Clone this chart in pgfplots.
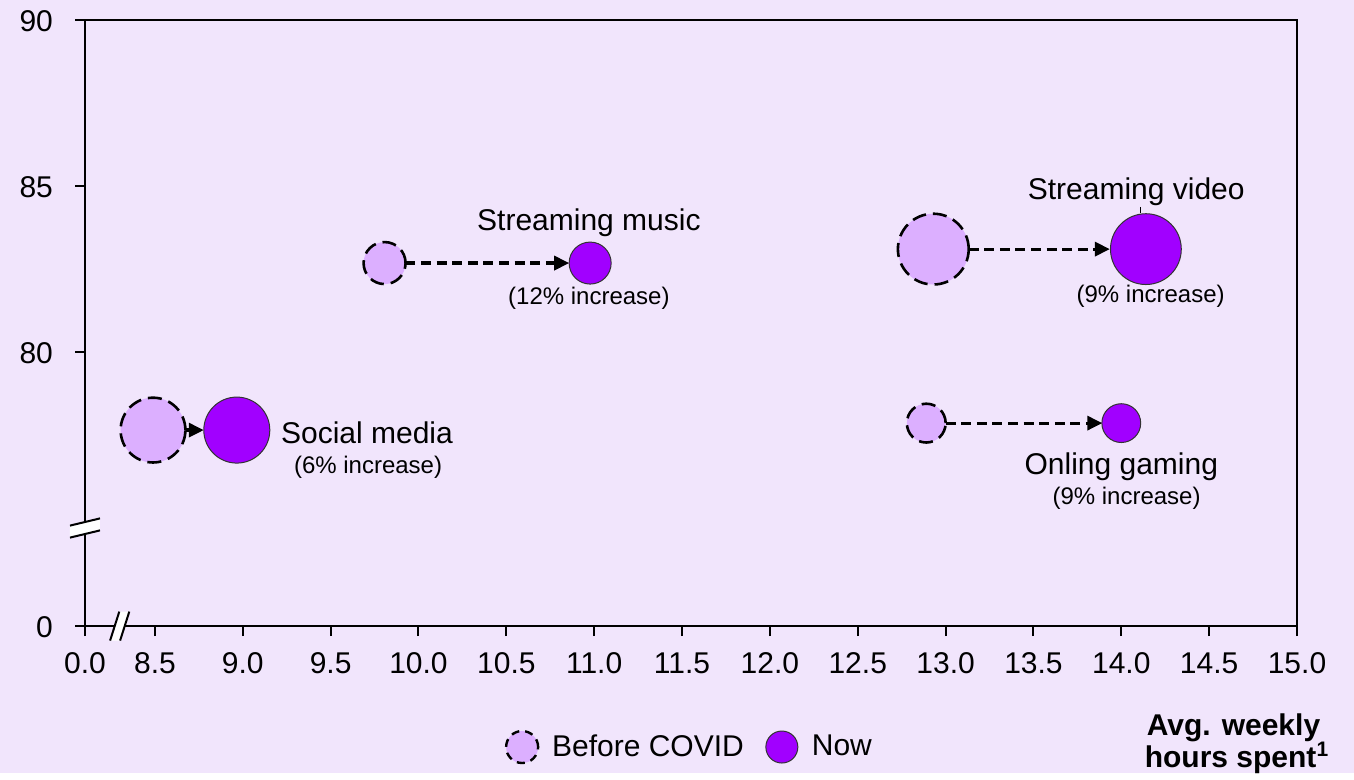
\documentclass[border=0pt]{standalone}
\usepackage{pgfplots}
\pgfplotsset{compat=1.18}
\usepackage{fontspec}
\setmainfont{Liberation Sans}
\usetikzlibrary{arrows.meta,backgrounds}

\definecolor{bgc}{HTML}{F1E5FC}
\definecolor{nowc}{HTML}{A100FF}
\definecolor{prec}{HTML}{DCAFFF}

\newcommand{\lbl}{\fontsize{15}{18}\selectfont}
\newcommand{\sml}{\fontsize{12}{14}\selectfont}

\pgfplotsset{
  before/.style={forget plot, only marks, mark=*,
    mark options={fill=prec, draw=black, line width=1.3pt, dash pattern=on 7pt off 3.5pt}},
  now/.style={forget plot, only marks, mark=*,
    mark options={fill=nowc, draw=black!80, line width=0.5pt, solid}},
  move/.style={forget plot, black, line width=1.6pt, dash pattern=on 5pt off 2.8pt,
    -{Triangle[length=7.5pt,width=7pt]}},
}

\begin{document}
\begin{tikzpicture}
\begin{axis}[
  name=ax,
  scale only axis,
  width=606pt, height=303pt,
  xmin=8.102, xmax=15.0,
  ymin=71.75, ymax=90,
  xtick={8.102,8.5,9,9.5,10,10.5,11,11.5,12,12.5,13,13.5,14,14.5,15},
  xticklabels={0.0,8.5,9.0,9.5,10.0,10.5,11.0,11.5,12.0,12.5,13.0,13.5,14.0,14.5,15.0},
  ytick={71.75,80,85,90},
  yticklabels={0,80,85,90},
  tick pos=left,
  tick align=outside,
  major tick length=5pt,
  tick style={black, line width=1pt},
  axis line style={black, line width=1pt},
  ticklabel style={font=\lbl, text height=11pt, text depth=0pt},
  xticklabel style={yshift=-4pt},
  yticklabel style={xshift=-7.5pt},
  clip=false,
  legend columns=2,
  legend style={at={(0.5,-0.1997)}, anchor=center, draw=none, fill=none,
    font=\lbl,
    /tikz/every odd column/.append style={column sep=5pt},
    /tikz/every even column/.append style={column sep=9pt}},
  legend cell align=left,
]
\addlegendimage{only marks, mark=*, mark size=8pt,
  mark options={fill=prec, draw=black, line width=1.2pt, dash pattern=on 4pt off 3pt}}
\addlegendentry{Before COVID}
\addlegendimage{only marks, mark=*, mark size=8pt,
  mark options={fill=nowc, draw=black!80, line width=0.5pt, solid}}
\addlegendentry{Now}

% Social media
\addplot[move] coordinates {(8.673,77.65) (8.778,77.65)};
\addplot[before, mark size=16.2pt] coordinates {(8.489,77.65)};
\addplot[now, mark size=16.5pt] coordinates {(8.966,77.65)};
% Streaming music
\addplot[move] coordinates {(9.926,82.68) (10.858,82.68)};
\addplot[before, mark size=10.5pt] coordinates {(9.807,82.68)};
\addplot[now, mark size=10.5pt] coordinates {(10.977,82.68)};
% Streaming video
\addplot[move] coordinates {(13.131,83.1) (13.935,83.1)};
\addplot[before, mark size=17.7pt] coordinates {(12.93,83.1)};
\addplot[now, mark size=17.7pt] coordinates {(14.14,83.1)};
% Online gaming
\addplot[move] coordinates {(13.0,77.86) (13.892,77.86)};
\addplot[before, mark size=9.7pt] coordinates {(12.89,77.86)};
\addplot[now, mark size=9.7pt] coordinates {(14.0,77.86)};

\node[font=\lbl] at (axis cs:9.707,77.56) {Social media};
\node[font=\sml] at (axis cs:9.713,76.54) {(6\% increase)};
\node[font=\lbl] at (axis cs:10.97,83.89) {Streaming music};
\node[font=\sml] at (axis cs:10.97,81.63) {(12\% increase)};
\node[font=\lbl] at (axis cs:14.085,84.82) {Streaming video};
\draw[black, line width=0.5pt] (axis cs:14.11,84.37) -- (axis cs:14.11,84.19);
\node[font=\sml] at (axis cs:14.167,81.69) {(9\% increase)};
\node[font=\lbl] at (axis cs:14.0,76.54) {Onling gaming};
\node[font=\sml] at (axis cs:14.03,75.6) {(9\% increase)};
\end{axis}

% axis breaks
\begin{scope}[shift={([yshift=49pt]ax.south west)}]
  \fill[white] (-7.5pt,-4.8pt) -- (7.5pt,-1.2pt) -- (7.5pt,4.8pt) -- (-7.5pt,1.2pt) -- cycle;
  \draw[line width=1pt] (-7.5pt,-4.8pt) -- (7.5pt,-1.2pt);
  \draw[line width=1pt] (-7.5pt,1.2pt) -- (7.5pt,4.8pt);
\end{scope}
\begin{scope}[shift={([xshift=17.35pt]ax.south west)}]
  \fill[white] (-4.8pt,-7.3pt) -- (0.2pt,-7.3pt) -- (4.8pt,7.2pt) -- (-0.2pt,7.2pt) -- cycle;
  \draw[line width=1pt] (-4.8pt,-7.3pt) -- (-0.2pt,7.2pt);
  \draw[line width=1pt] (0.2pt,-7.3pt) -- (4.8pt,7.2pt);
\end{scope}

\node[font=\bfseries\lbl, anchor=base] at ([xshift=-31.75pt,yshift=-54.5pt]ax.south east) {Avg. weekly};
\node[font=\bfseries\lbl, anchor=base] at ([xshift=-30pt,yshift=-70.5pt]ax.south east) {hours spent\textsuperscript{1}};

\begin{pgfonlayer}{background}
  \fill[bgc] ([xshift=-42.5pt,yshift=10pt]ax.north west) rectangle ([xshift=28.5pt,yshift=-73.5pt]ax.south east);
\end{pgfonlayer}
\end{tikzpicture}
\end{document}
